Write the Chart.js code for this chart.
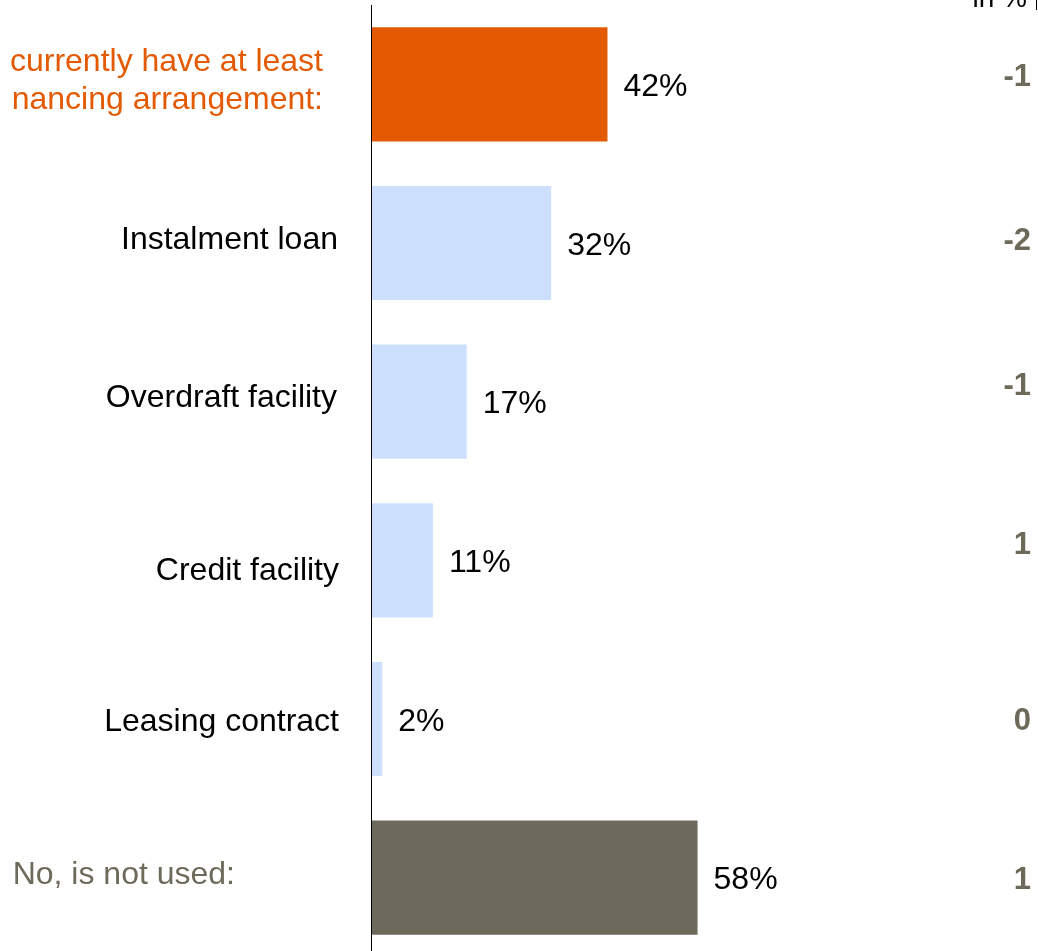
<!DOCTYPE html>
<html>
<head>
<meta charset="utf-8">
<script src="https://cdn.jsdelivr.net/npm/chart.js@4.4.0/dist/chart.umd.min.js"></script>
<style>
  html, body { margin: 0; padding: 0; background: #fff; overflow: hidden; }
  #wrap { width: 1038px; height: 951px; overflow: hidden; }
</style>
</head>
<body>
<div id="wrap"><canvas id="myChart" width="1038" height="957"></canvas></div>
<script>
// data
var categories = [
    ["currently have at least", "nancing arrangement:"],
    "Instalment loan",
    "Overdraft facility",
    "Credit facility",
    "Leasing contract",
    "No, is not used:"
];
var shares = [42, 32, 17, 11, 2, 58];
var changes = ["-1", "-2", "-1", "1", "0", "1"];
var unitLabel = "in %";

var ORANGE = "#E35A02";
var BLUE = "#CCE0FE";
var GREY = "#6E6A5B";
var barColors = [ORANGE, BLUE, BLUE, BLUE, BLUE, GREY];
var labelColors = [ORANGE, "#000", "#000", "#000", "#000", GREY];

var FONT = "'Liberation Sans', Arial, sans-serif";

var labelsPlugin = {
    id: "labelsPlugin",
    afterDatasetsDraw: function(chart) {
        var ctx = chart.ctx;
        var area = chart.chartArea;
        var yScale = chart.scales.y;
        var meta = chart.getDatasetMeta(0);

        // axis line
        ctx.save();
        ctx.strokeStyle = "#000";
        ctx.lineWidth = 1;
        ctx.beginPath();
        ctx.moveTo(area.left + 0.5, area.top);
        ctx.lineTo(area.left + 0.5, area.bottom);
        ctx.stroke();

        // category labels on the left
        var labelRight = [323, 338, 337, 339, 339, 235];
        var labelShift = [-3, -3, -3, 11, 3, -2];
        ctx.font = "32px " + FONT;
        ctx.textAlign = "right";
        ctx.textBaseline = "middle";
        categories.forEach(function(c, i) {
            var y = yScale.getPixelForTick(i) + labelShift[i];
            ctx.fillStyle = labelColors[i];
            if (Array.isArray(c)) {
                ctx.fillText(c[0], labelRight[i], y - 19);
                ctx.fillText(c[1], labelRight[i], y + 19);
            } else {
                ctx.fillText(c, labelRight[i], y);
            }
        });

        // value labels next to bars
        ctx.fillStyle = "#000";
        ctx.textAlign = "left";
        meta.data.forEach(function(bar, i) {
            ctx.fillText(shares[i] + "%", bar.x + 16, bar.y + 3);
        });

        // change column
        var changeShift = [-7, -2, -15, -15, 2, 3];
        ctx.fillStyle = GREY;
        ctx.textAlign = "right";
        ctx.font = "bold 31px " + FONT;
        changes.forEach(function(v, i) {
            ctx.fillText(v, 1031, yScale.getPixelForTick(i) + changeShift[i]);
        });

        // unit label at the top right
        ctx.fillStyle = "#000";
        ctx.font = "28px " + FONT;
        ctx.textBaseline = "alphabetic";
        ctx.fillText(unitLabel, 1027, 7);
        ctx.strokeStyle = "#000";
        ctx.beginPath();
        ctx.moveTo(1036.5, 0);
        ctx.lineTo(1036.5, 10);
        ctx.stroke();
        ctx.restore();
    }
};

var ctx = document.getElementById("myChart");

var barChart = new Chart(ctx, {
    type: "bar",
    data: {
        labels: categories,
        datasets: [{
            data: shares,
            backgroundColor: barColors,
            borderWidth: 0,
            barPercentage: 0.72,
            categoryPercentage: 1
        }]
    },
    options: {
        indexAxis: "y",
        responsive: false,
        animation: false,
        layout: {
            padding: { left: 371, right: 104, top: 5, bottom: 0 }
        },
        scales: {
            x: { display: false, min: 0, max: 100 },
            y: { display: false }
        },
        plugins: {
            legend: { display: false },
            tooltip: { enabled: false }
        }
    },
    plugins: [labelsPlugin]
});
</script>
</body>
</html>
